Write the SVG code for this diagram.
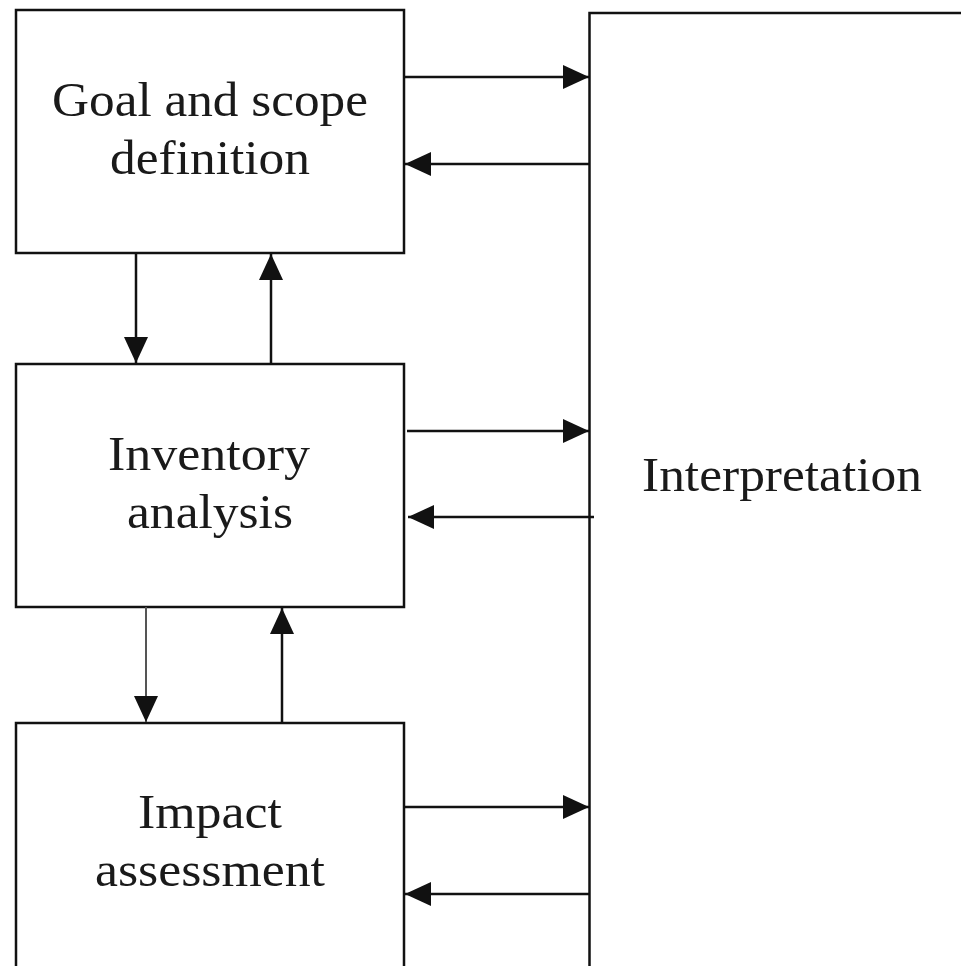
<svg xmlns="http://www.w3.org/2000/svg" width="961" height="966" viewBox="0 0 961 966">
<style>
.box{fill:#fff;stroke:#111;stroke-width:2.5}
.lbl{font-family:"Liberation Serif","Times New Roman",serif;font-size:49px;fill:#1a1a1a;text-anchor:middle}
.c{stroke:#111;stroke-width:2.5;fill:none;marker-end:url(#ah)}
</style>
<defs>
<marker id="ah" markerUnits="userSpaceOnUse" markerWidth="26" markerHeight="24" viewBox="0 0 26 24" refX="26" refY="12" orient="auto">
<path d="M0,0 L26,12 L0,24 Z" fill="#111"/>
</marker>
</defs>
<rect width="961" height="966" fill="#fff"/>
<g id="interpretation">
<path class="box" d="M961,13 H589.5 V966" fill="none"/>
<text class="lbl" x="782" y="491" textLength="280" lengthAdjust="spacingAndGlyphs">Interpretation</text>
</g>
<g id="goal">
<rect class="box" x="16" y="10" width="388" height="243"/>
<text class="lbl" x="210" y="116" textLength="316" lengthAdjust="spacingAndGlyphs">Goal and scope</text>
<text class="lbl" x="210" y="174" textLength="200" lengthAdjust="spacingAndGlyphs">definition</text>
</g>
<g id="inventory">
<rect class="box" x="16" y="364" width="388" height="243"/>
<text class="lbl" x="209" y="470" textLength="202" lengthAdjust="spacingAndGlyphs">Inventory</text>
<text class="lbl" x="210" y="528" textLength="166" lengthAdjust="spacingAndGlyphs">analysis</text>
</g>
<g id="impact">
<path class="box" d="M16,968 V723 H404 V968"/>
<text class="lbl" x="210" y="828" textLength="144" lengthAdjust="spacingAndGlyphs">Impact</text>
<text class="lbl" x="210" y="886" textLength="230" lengthAdjust="spacingAndGlyphs">assessment</text>
</g>
<g id="connectors">
<line class="c" x1="404" y1="77" x2="589" y2="77"/>
<line class="c" x1="589" y1="164" x2="405" y2="164"/>
<line class="c" x1="136" y1="253" x2="136" y2="363"/>
<line class="c" x1="271" y1="364" x2="271" y2="254"/>
<line class="c" x1="407" y1="431" x2="589" y2="431"/>
<line class="c" x1="594" y1="517" x2="408" y2="517"/>
<line class="c" x1="146" y1="607" x2="146" y2="722" style="stroke:#555;stroke-width:2"/>
<line class="c" x1="282" y1="723" x2="282" y2="608"/>
<line class="c" x1="404" y1="807" x2="589" y2="807"/>
<line class="c" x1="589" y1="894" x2="405" y2="894"/>
</g>
</svg>
